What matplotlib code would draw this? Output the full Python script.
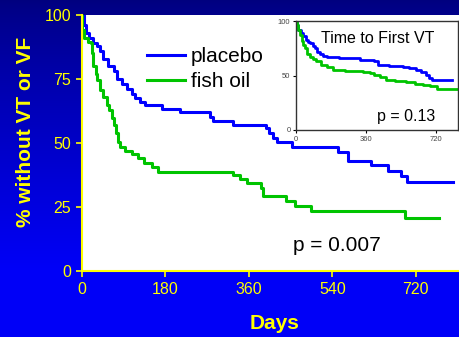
import numpy as np
import matplotlib
matplotlib.use("Agg")
import matplotlib.pyplot as plt

# main chart: time to VT or VF (Kaplan-Meier style steps)
placebo_days = [0, 4, 8, 16, 23, 32, 39, 45, 57, 68, 75, 86, 96, 107, 114, 125, 136,
                172, 211, 277, 282, 325, 397, 404, 411, 420, 452, 553, 574, 624, 660,
                689, 700, 799]
placebo_pct = [100, 96, 93, 91, 89, 88, 86, 83, 80, 78, 75, 73, 71, 69, 67.5, 66, 65,
               63.3, 62, 60.3, 58.6, 57, 55.7, 53.8, 51.8, 50.3, 48.6, 46.6, 43.1, 41.4,
               39.2, 37.1, 34.9, 34.9]

fish_days = [0, 1, 5, 12, 19, 21, 24, 30, 32, 39, 46, 53, 59, 64, 68, 73, 78, 82, 93,
             107, 121, 134, 152, 164, 325, 341, 355, 387, 391, 440, 459, 493, 696, 770]
fish_pct = [100, 94, 91, 89.6, 89, 85, 80, 77, 74.6, 70.7, 68, 65, 63, 59.6, 57, 53.8,
            50.5, 48.6, 46.9, 45.6, 44, 42.3, 40.7, 38.8, 37.5, 35.8, 34.3, 32.3, 29.3,
            27.3, 25.4, 23.6, 20.6, 20.6]

# inset: time to first VT
inset_placebo_days = [0, 5, 12, 25, 37, 50, 60, 71, 85, 97, 110, 122, 140, 157, 220, 276,
                      327, 403, 420, 480, 548, 580, 616, 640, 667, 685, 701, 803]
inset_placebo_pct = [100, 96, 92, 89, 86, 83, 81, 79.5, 77, 75, 72, 70, 68, 67, 66.5, 66,
                     64, 63, 60, 59, 58, 57, 55, 53, 50.5, 48, 46, 46]
inset_fish_days = [0, 5, 12, 20, 30, 38, 46, 58, 71, 85, 105, 130, 157, 190, 250, 309,
                   345, 378, 400, 429, 463, 510, 565, 610, 650, 690, 726, 832]
inset_fish_pct = [100, 96, 92, 87, 82, 78, 75, 70, 67, 65, 63, 60, 58, 55, 54.5, 54,
                  53, 52, 50.5, 49, 46, 45, 44, 42.5, 41, 40, 37.6, 37.6]

x_ticks = [0, 180, 360, 540, 720]
y_ticks = [0, 25, 50, 75, 100]
inset_x_ticks = [0, 360, 720]
inset_y_ticks = [0, 50, 100]

blue = '#0000ff'
green = '#00c400'
yellow = '#ffff00'
plt.rcParams['font.family'] = ['Liberation Sans', 'DejaVu Sans']

W, H = 459, 337
fig = plt.figure(figsize=(W / 100, H / 100), dpi=100)

# blue gradient background
bg = fig.add_axes([0, 0, 1, 1], zorder=-10)
t = np.linspace(0, 1, 200)[:, None]
shade = 0.50 + 0.47 * np.clip(t / 0.8, 0, 1) ** 0.8
grad = np.dstack([np.zeros_like(shade), np.zeros_like(shade), shade])
bg.imshow(grad, aspect='auto', extent=[0, 1, 0, 1], origin='upper')
bg.axis('off')

ax = fig.add_axes([82 / W, (H - 271) / H, (W - 82) / W, 256 / H])
ax.set_facecolor('white')
ax.step(placebo_days, placebo_pct, where='post', color=blue, lw=2.2, label='placebo')
ax.step(fish_days, fish_pct, where='post', color=green, lw=2.2, label='fish oil')
ax.set_xlim(0, 813)
ax.set_ylim(0, 100)
ax.set_xticks(x_ticks)
ax.set_yticks(y_ticks)
for s in ['top', 'right']:
    ax.spines[s].set_visible(False)
for s in ['left', 'bottom']:
    ax.spines[s].set_color(yellow)
    ax.spines[s].set_linewidth(1.5)
ax.tick_params(colors=yellow, labelsize=11.5, length=4, width=1.2, pad=4)
ax.set_xlabel('Days', color=yellow, fontsize=15, fontweight='bold')
ax.set_ylabel('% without VT or VF', color=yellow, fontsize=15, fontweight='bold')
ax.xaxis.set_label_coords(0.51, -0.168)
ax.yaxis.set_label_coords(-0.125, 0.543)
ax.text(455, 10, 'p = 0.007', fontsize=15, ha='left', va='center')
ax.legend(loc='upper left', bbox_to_anchor=(147 / W, (H - 47) / H),
          bbox_transform=fig.transFigure, frameon=False, fontsize=15,
          handlelength=1.8, handletextpad=0.3, borderpad=0, borderaxespad=0,
          labelspacing=0.3)

# inset
axi = fig.add_axes([296 / W, (H - 130) / H, 162 / W, 109 / H])
axi.set_facecolor('white')
axi.step(inset_placebo_days, inset_placebo_pct, where='post', color=blue, lw=2)
axi.step(inset_fish_days, inset_fish_pct, where='post', color=green, lw=2)
axi.set_xlim(0, 832)
axi.set_ylim(0, 100)
axi.set_xticks(inset_x_ticks)
axi.set_yticks(inset_y_ticks)
for s in axi.spines.values():
    s.set_color('#333333')
    s.set_linewidth(1)
axi.tick_params(labelsize=5.5, labelcolor='#444444', length=2.5, width=0.8, pad=1.5)
axi.text(418, 83.5, 'Time to First VT', fontsize=11.5, ha='center', va='center')
axi.text(418, 12, 'p = 0.13', fontsize=11.5, ha='left', va='center')

fig.savefig('out.png', dpi=100)
